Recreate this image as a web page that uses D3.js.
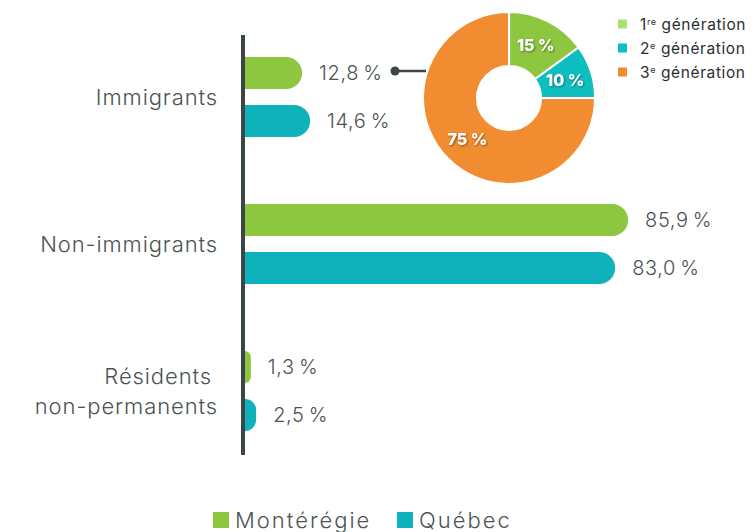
<!DOCTYPE html>
<html>
<head>
<meta charset="utf-8">
<script src="https://cdn.jsdelivr.net/npm/d3@7"></script>
<style>
  body { margin: 0; background: #fff; }
  svg { display: block; }
  text { font-family: Inter, "Open Sans", sans-serif; }
</style>
</head>
<body>
<div id="chart"></div>
<script>
const categories = [["Immigrants"], ["Non-immigrants"], ["Résidents", "non-permanents"]];
const series = ["Montérégie", "Québec"];
const monteregie = [12.8, 85.9, 1.3];
const quebec = [14.6, 83.0, 2.5];
const generations = ["1", "2", "3"];
const genSup = ["re", "e", "e"];
const genValues = [15, 10, 75];

const colors = { "Montérégie": "#8dc63f", "Québec": "#0fb2ba" };
const pieColors = ["#8dc63f", "#0fbfc0", "#f28c30"];
const pieLegendColors = ["#addf74", "#0fbfc0", "#f28c30"];
const textColor = "#4b5353";

const width = 756, height = 532;
const svg = d3.select("#chart").append("svg")
  .attr("width", width).attr("height", height);

const defs = svg.append("defs");
defs.append("filter").attr("id", "shadow")
  .attr("x", "-20%").attr("y", "-20%").attr("width", "140%").attr("height", "140%")
  .append("feDropShadow")
  .attr("dx", 1).attr("dy", 1).attr("stdDeviation", 1)
  .attr("flood-color", "#000").attr("flood-opacity", 0.45);

const x = d3.scaleLinear().domain([0, 100]).range([245, 691]);
const y = d3.scalePoint().domain(d3.range(categories.length)).range([97, 391]);
const inner = d3.scaleBand().domain(series).range([-40, 40]).paddingInner(1 / 3);

const rows = [];
categories.forEach((c, i) => {
  rows.push({ i, s: "Montérégie", v: monteregie[i] });
  rows.push({ i, s: "Québec", v: quebec[i] });
});

function barPath(d) {
  const x0 = x(0), x1 = x(d.v);
  const y0 = y(d.i) + inner(d.s), h = inner.bandwidth();
  const r = Math.min(h / 2, x1 - x0);
  return `M${x0},${y0}L${x1 - r},${y0}A${r},${r} 0 0 1 ${x1},${y0 + r}` +
    `L${x1},${y0 + h - r}A${r},${r} 0 0 1 ${x1 - r},${y0 + h}L${x0},${y0 + h}Z`;
}

svg.append("g").selectAll("path")
  .data(rows).join("path")
  .attr("d", barPath)
  .attr("fill", d => colors[d.s]);

// axis line
svg.append("line")
  .attr("x1", 243).attr("x2", 243).attr("y1", 35).attr("y2", 455)
  .attr("stroke", "#3d4646").attr("stroke-width", 4);

const fmt = v => d3.format(".1f")(v).replace(".", ",") + "\u2009%";

svg.append("g").selectAll("text")
  .data(rows).join("text")
  .attr("x", d => x(d.v) + 17)
  .attr("y", d => y(d.i) + inner(d.s) + inner.bandwidth() / 2)
  .attr("dy", "0.36em")
  .attr("font-size", 20)
  .attr("font-weight", 300)
  .attr("letter-spacing", 0.6)
  .attr("fill", textColor)
  .text(d => fmt(d.v));

// category labels
const catG = svg.append("g");
categories.forEach((lines, i) => {
  const t = catG.append("text")
    .attr("x", 217)
    .attr("y", y(i) - (lines.length - 1) * 15)
    .attr("text-anchor", "end")
    .attr("font-size", 22)
    .attr("font-weight", 300)
    .attr("letter-spacing", 0.9)
    .attr("fill", textColor);
  lines.forEach((l, j) => {
    t.append("tspan").attr("x", j === 0 && lines.length > 1 ? 212 : 218)
      .attr("dy", j === 0 ? "0.35em" : 30).text(l);
  });
});

// leader line
svg.append("line")
  .attr("x1", 395).attr("x2", 426).attr("y1", 71).attr("y2", 71)
  .attr("stroke", "#3d4646").attr("stroke-width", 2.5);
svg.append("circle").attr("cx", 395).attr("cy", 71).attr("r", 4.5).attr("fill", "#3d4646");

// donut
const pie = d3.pie().sort(null)(genValues);
const arc = d3.arc().innerRadius(32).outerRadius(86);
const donut = svg.append("g").attr("transform", "translate(509,98)");
donut.selectAll("path")
  .data(pie).join("path")
  .attr("d", arc)
  .attr("fill", (d, i) => pieColors[i])
  .attr("stroke", "#fff").attr("stroke-width", 2);
donut.selectAll("text")
  .data(pie).join("text")
  .attr("transform", d => `translate(${arc.centroid(d)})`)
  .attr("text-anchor", "middle")
  .attr("dy", "0.36em")
  .attr("font-size", 16)
  .attr("font-weight", 800)
  .attr("fill", "#fff")
  .attr("filter", "url(#shadow)")
  .text(d => d.data + " %");

// pie legend
const pl = svg.append("g").selectAll("g")
  .data(generations).join("g")
  .attr("transform", (d, i) => `translate(618,${24 + i * 24})`);
pl.append("rect").attr("x", 0).attr("y", -4.5).attr("width", 9).attr("height", 9)
  .attr("fill", (d, i) => pieLegendColors[i]);
const plt = pl.append("text").attr("x", 22).attr("dy", "0.36em")
  .attr("font-size", 15.5).attr("letter-spacing", 0.6).attr("fill", "#2b2f2f");
plt.append("tspan").text(d => d);
plt.append("tspan").attr("font-size", 9).attr("dy", -5).text((d, i) => genSup[i]);
plt.append("tspan").attr("dy", 5).text(" génération");

// bottom legend
const legX = [213, 397];
const lg = svg.append("g").selectAll("g")
  .data(series).join("g")
  .attr("transform", (d, i) => `translate(${legX[i]},512)`);
lg.append("rect").attr("width", 16).attr("height", 16).attr("fill", d => colors[d]);
lg.append("text").attr("x", 22).attr("y", 8).attr("dy", "0.38em")
  .attr("font-size", 22).attr("font-weight", 300).attr("letter-spacing", 2)
  .attr("fill", textColor)
  .text(d => d);
</script>
</body>
</html>
